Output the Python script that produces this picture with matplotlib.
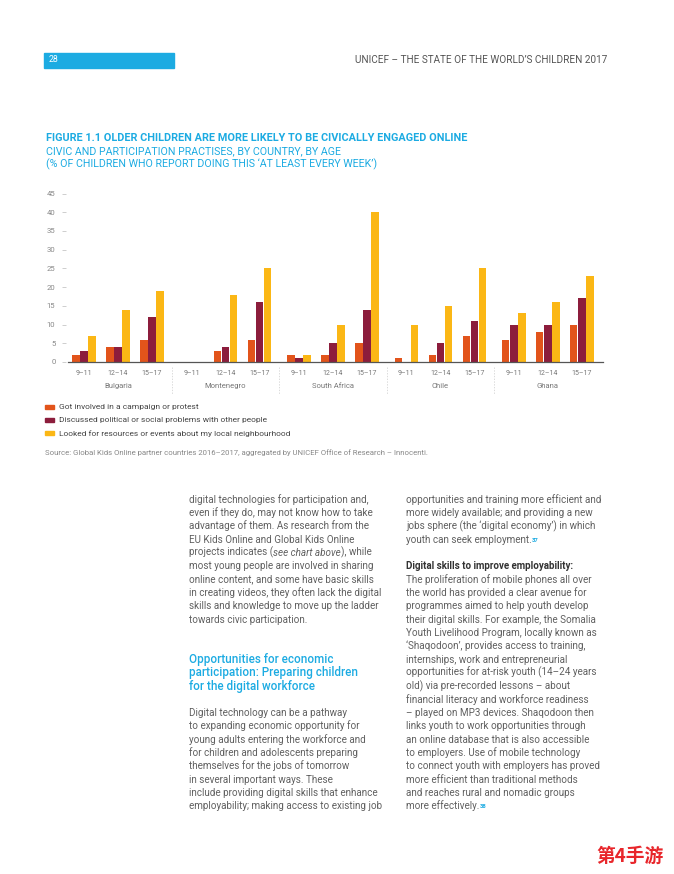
import matplotlib
matplotlib.use('Agg')
import matplotlib.pyplot as plt
from matplotlib import transforms

plt.rcParams['font.family'] = ['Roboto', 'DejaVu Sans']

# Данные графика
countries = ['Bulgaria', 'Montenegro', 'South Africa', 'Chile', 'Ghana']
ages = ['9–11', '12–14', '15–17']
series = ['Got involved in a campaign or protest',
          'Discussed political or social problems with other people',
          'Looked for resources or events about my local neighbourhood']
campaign = [2, 4, 6, 0, 3, 6, 2, 2, 5, 1, 2, 7, 6, 8, 10]
discussed = [3, 4, 12, 0, 4, 16, 1, 5, 14, 0, 5, 11, 10, 10, 17]
resources = [7, 14, 19, 0, 18, 25, 2, 10, 40, 10, 15, 25, 13, 16, 23]
yticks = [0, 5, 10, 15, 20, 25, 30, 35, 40, 45]

left_col = ['digital technologies for participation and,',
            'even if they do, may not know how to take',
            'advantage of them. As research from the',
            'EU Kids Online and Global Kids Online',
            None,  # строка с курсивом
            'most young people are involved in sharing',
            'online content, and some have basic skills',
            'in creating videos, they often lack the digital',
            'skills and knowledge to move up the ladder',
            'towards civic participation.']
heading = ['Opportunities for economic',
           'participation: Preparing children',
           'for the digital workforce']
left_col2 = ['Digital technology can be a pathway',
             'to expanding economic opportunity for',
             'young adults entering the workforce and',
             'for children and adolescents preparing',
             'themselves for the jobs of tomorrow',
             'in several important ways. These',
             'include providing digital skills that enhance',
             'employability; making access to existing job']
right_col = ['opportunities and training more efficient and',
             'more widely available; and providing a new',
             'jobs sphere (the ‘digital economy’) in which',
             None]  # строка со сноской 37
right_col2 = ['The proliferation of mobile phones all over',
              'the world has provided a clear avenue for',
              'programmes aimed to help youth develop',
              'their digital skills. For example, the Somalia',
              'Youth Livelihood Program, locally known as',
              '‘Shaqodoon’, provides access to training,',
              'internships, work and entrepreneurial',
              'opportunities for at-risk youth (14–24 years',
              'old) via pre-recorded lessons – about',
              'financial literacy and workforce readiness',
              '– played on MP3 devices. Shaqodoon then',
              'links youth to work opportunities through',
              'an online database that is also accessible',
              'to employers. Use of mobile technology',
              'to connect youth with employers has proved',
              'more efficient than traditional methods',
              'and reaches rural and nomadic groups',
              None]  # строка со сноской 38

BLUE = '#1CABE2'
colors = ['#E2541B', '#8C1D3C', '#FBB715']
W, H = 674, 874


def fx(px):
    return px / W


def fy(py):
    return 1 - py / H


fig = plt.figure(figsize=(W / 100, H / 100), dpi=100)
renderer = fig.canvas.get_renderer()


def text_run(x, y, parts, **common):  # Напечатать строку из кусков с разным стилем
    x = fx(x)
    for s, kw in parts:
        opts = dict(common)
        opts.update(kw)
        t = fig.text(x, y, s, **opts)
        x = t.get_window_extent(renderer).x1 / fig.bbox.width


# Шапка страницы
fig.patches.append(plt.Rectangle((fx(44), fy(67.5)), fx(130), 15 / H,
                                 transform=fig.transFigure, color=BLUE))
fig.text(fx(49), fy(60), '28', color='white', fontsize=6.3, va='center')
fig.text(fx(607), fy(60), 'UNICEF – THE STATE OF THE WORLD’S CHILDREN 2017',
         color='#555555', fontsize=7.2, ha='right', va='center')

# Заголовок
fig.text(fx(46), fy(138), 'FIGURE 1.1 OLDER CHILDREN ARE MORE LIKELY TO BE CIVICALLY ENGAGED ONLINE',
         color=BLUE, fontsize=7.8, fontweight='bold', va='center')
fig.text(fx(46), fy(151), 'CIVIC AND PARTICIPATION PRACTISES, BY COUNTRY, BY AGE',
         color=BLUE, fontsize=7.7, va='center')
fig.text(fx(46), fy(164), '(% OF CHILDREN WHO REPORT DOING THIS ‘AT LEAST EVERY WEEK’)',
         color=BLUE, fontsize=7.7, va='center')

# График
ax = fig.add_axes([fx(68), fy(362), (603.3 - 68) / W, (362 - 193.5) / H])
xs = [c * 3.16 + a for c in range(len(countries)) for a in range(len(ages))]
for k, vals in enumerate([campaign, discussed, resources]):
    ax.bar([p + (k - 1) * 0.238 for p in xs], vals, width=0.218, color=colors[k], zorder=2)
ax.set_xlim(-0.47, 15.27)
ax.set_ylim(0, 45)
ax.set_yticks(yticks)
ax.set_yticklabels([str(v) for v in yticks])
ax.set_xticks(xs)
ax.set_xticklabels(ages * len(countries))
for s in ['top', 'right', 'left']:
    ax.spines[s].set_visible(False)
ax.spines['bottom'].set_color('#555555')
ax.spines['bottom'].set_linewidth(0.9)
ax.spines['bottom'].set_zorder(3)
ax.spines['left'].set_position(('outward', 1.5))
ax.tick_params(axis='y', length=3, width=0.5, color='#bbbbbb', pad=4.5,
               labelsize=5.6, labelcolor='#888888')
ax.tick_params(axis='x', length=0, pad=5.5, labelsize=5, labelcolor='#777777')
ax.patch.set_alpha(0)

trans = transforms.blended_transform_factory(ax.transData, ax.transAxes)
for c, name in enumerate(countries):
    ax.text(c * 3.16 + 1, -0.142, name, transform=trans, ha='center', va='center',
            fontsize=5.5, color='#777777')
    if c > 0:
        xsep = c * 3.16 - 0.58
        ax.plot([xsep, xsep], [-0.03, -0.19], transform=trans, clip_on=False,
                color='#cccccc', lw=0.5, ls=(0, (2, 2)))

# Легенда
for k, label in enumerate(series):
    y = fy(407 + k * 13.2)
    fig.patches.append(plt.Rectangle((fx(45), y - 2 / H), fx(9), 4.5 / H,
                                     transform=fig.transFigure, color=colors[k]))
    fig.text(fx(59), y, label, fontsize=6.0, color='#444444', va='center')

fig.text(fx(45), fy(452.3),
         'Source: Global Kids Online partner countries 2016–2017, aggregated by UNICEF Office of Research – Innocenti.',
         fontsize=5.55, color='#888888', va='center')

# Текст статьи
BODY = dict(fontsize=7.1, color='#606060', va='baseline')
LS = 13.33
for i, line in enumerate(left_col):
    y = fy(500 + i * LS + 2.6)
    if line is None:
        text_run(189, y, [('projects indicates (', {}), ('see chart above', {'style': 'italic'}),
                          ('), while', {})], **BODY)
    else:
        fig.text(fx(189), y, line, **BODY)

for i, line in enumerate(heading):
    fig.text(fx(189), fy(660 + i * LS + 3), line, fontsize=8.4, color=BLUE,
             fontweight='medium', va='baseline')

for i, line in enumerate(left_col2):
    fig.text(fx(189), fy(713.3 + i * LS + 2.6), line, **BODY)

for i, line in enumerate(right_col):
    y = fy(500 + i * LS + 2.6)
    if line is None:
        text_run(406, y, [('youth can seek employment.', {}),
                          ('37', {'fontsize': 4.2, 'color': BLUE, 'fontweight': 'bold',
                                  'va': 'bottom'})], **BODY)
    else:
        fig.text(fx(406), y, line, **BODY)

fig.text(fx(406), fy(566.7 + 2.6), 'Digital skills to improve employability:',
         fontsize=7.0, color='#333333', fontweight='bold', va='baseline')
for i, line in enumerate(right_col2):
    y = fy(580 + i * LS + 2.6)
    if line is None:
        text_run(406, y, [('more effectively.', {}),
                          ('38', {'fontsize': 4.2, 'color': BLUE, 'fontweight': 'bold',
                                  'va': 'bottom'})], **BODY)
    else:
        fig.text(fx(406), y, line, **BODY)

# Водяной знак
fig.text(fx(630), fy(856), '第4手游', family=['Noto Sans CJK SC', 'DejaVu Sans'],
         fontsize=13.5, fontweight='bold', color='#E8262B', ha='center', va='center')

fig.savefig('out.png', dpi=100)
